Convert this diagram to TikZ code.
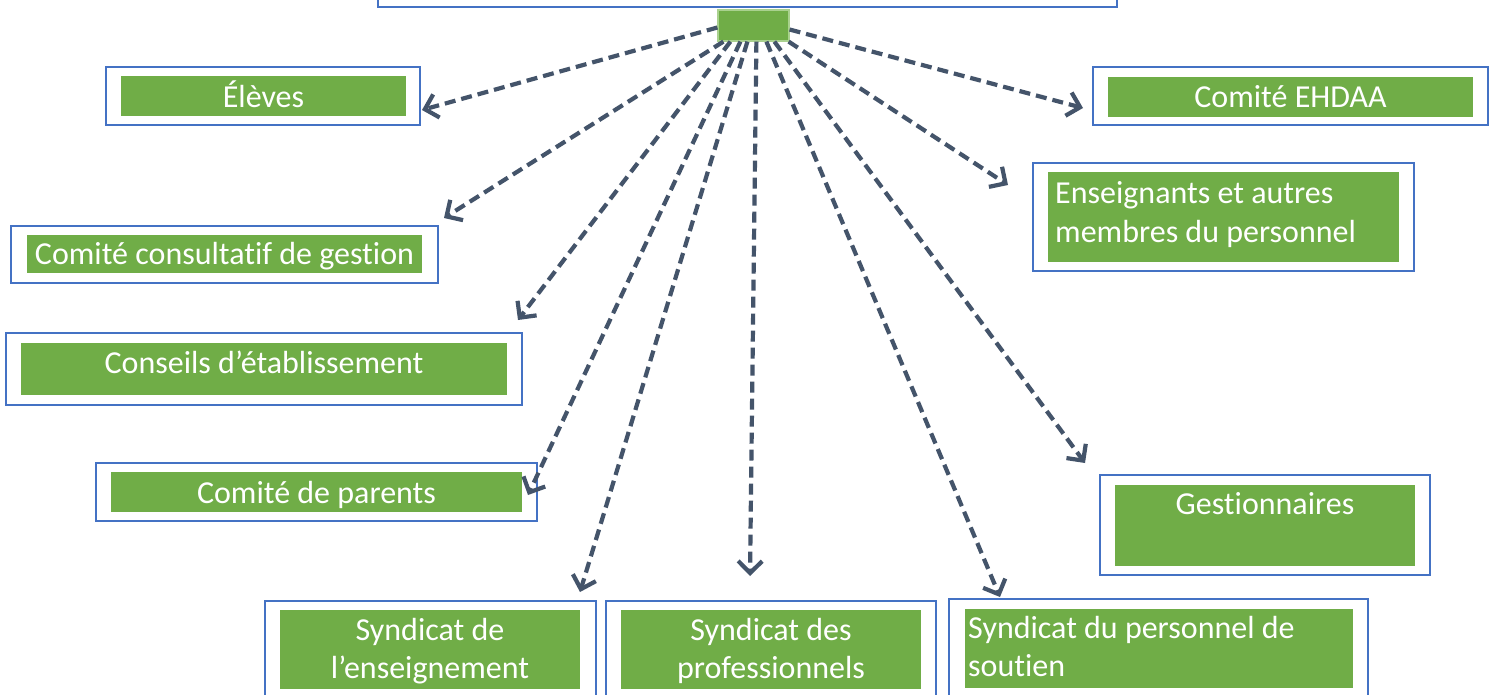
\documentclass[tikz,border=0pt]{standalone}
\usepackage{fontspec}
\setmainfont{Carlito}[RawFeature={-liga}]
\usetikzlibrary{arrows.meta}
\definecolor{gr}{HTML}{70AD47}
\definecolor{bl}{HTML}{4472C4}
\definecolor{ar}{HTML}{44546A}
\definecolor{lg}{HTML}{A9D18E}
\tikzset{
  outerbox/.style={draw=bl, line width=1.6pt, fill=white, inner sep=0pt},
  greenbox/.style={fill=gr, draw=none, inner sep=0pt},
  lbl/.style={text=white, inner sep=0pt, font=\fontsize{32}{39}\selectfont},
  conn/.style={draw=ar, line width=4.2pt, dash pattern=on 11pt off 6pt, -{Straight Barb[length=12pt,width=24pt,line width=4.2pt]}}
}
\begin{document}
\begin{tikzpicture}[x=1pt,y=-1pt]
\useasboundingbox (0,0) rectangle (1497,694);
\fill[white] (0,0) rectangle (1497,694);
% top box (cut off)
\node[outerbox, minimum width=739pt, minimum height=40pt] (top) at (747.5,-13) {};
% source
\node[fill=gr, draw=lg, line width=1.2pt, minimum width=71pt, minimum height=31pt, inner sep=0pt] (src) at (753.5,25.5) {};
% Eleves
\node[outerbox, minimum width=314pt, minimum height=58pt] (elevesO) at (263,96) {};
\node[greenbox, minimum width=285pt, minimum height=40pt] (eleves) at (263.5,96) {};
\node[lbl, anchor=base] (elevesT) at (263.5,107) {Élèves};
% EHDAA
\node[outerbox, minimum width=395pt, minimum height=58pt] (ehdaaO) at (1290.5,96) {};
\node[greenbox, minimum width=365pt, minimum height=40pt] (ehdaa) at (1290.5,97) {};
\node[lbl, anchor=base] (ehdaaT) at (1290.5,107) {Comité EHDAA};
% Enseignants
\node[outerbox, minimum width=381pt, minimum height=108pt] (ensO) at (1223.5,217) {};
\node[greenbox, minimum width=351pt, minimum height=90pt] (ens) at (1223.5,217) {};
\node[lbl, anchor=base west] (ensT1) at (1055,203) {Enseignants et autres};
\node[lbl, anchor=base west] (ensT2) at (1055,242) {membres du personnel};
% Consultatif
\node[outerbox, minimum width=427pt, minimum height=57pt] (ccgO) at (224.5,254.5) {};
\node[greenbox, minimum width=395pt, minimum height=38pt] (ccg) at (224.5,254) {};
\node[lbl, anchor=base] (ccgT) at (224.5,264) {Comité consultatif de gestion};
% Conseils
\node[outerbox, minimum width=516pt, minimum height=72pt] (ceO) at (264,369) {};
\node[greenbox, minimum width=486pt, minimum height=52pt] (ce) at (264,369) {};
\node[lbl, anchor=base] (ceT) at (264,373) {Conseils d’établissement};
% Parents
\node[outerbox, minimum width=441pt, minimum height=58pt] (cpO) at (316.5,492) {};
\node[greenbox, minimum width=411pt, minimum height=40pt] (cp) at (316.5,492) {};
\node[lbl, anchor=base] (cpT) at (316.5,503) {Comité de parents};
% Gestionnaires
\node[outerbox, minimum width=330pt, minimum height=100pt] (gesO) at (1265,525) {};
\node[greenbox, minimum width=300pt, minimum height=81pt] (ges) at (1265,525.5) {};
\node[lbl, anchor=base] (gesT) at (1265,514) {Gestionnaires};
% Syndicat enseignement
\node[outerbox, minimum width=331pt, minimum height=110pt] (seO) at (430.5,656) {};
\node[greenbox, minimum width=300pt, minimum height=79pt] (se) at (430,649.5) {};
\node[lbl, anchor=base] (seT1) at (430,640) {Syndicat de};
\node[lbl, anchor=base] (seT2) at (430,678) {l’enseignement};
% Syndicat professionnels
\node[outerbox, minimum width=330pt, minimum height=110pt] (spO) at (771,656) {};
\node[greenbox, minimum width=300pt, minimum height=79pt] (sp) at (771,649.5) {};
\node[lbl, anchor=base] (spT1) at (771,640) {Syndicat des};
\node[lbl, anchor=base] (spT2) at (771,678) {professionnels};
% Syndicat soutien
\node[outerbox, minimum width=419pt, minimum height=112pt] (ssO) at (1158.5,655) {};
\node[greenbox, minimum width=388pt, minimum height=79pt] (ss) at (1159,648.5) {};
\node[lbl, anchor=base west] (ssT1) at (968,638) {Syndicat du personnel de};
\node[lbl, anchor=base west] (ssT2) at (968,676) {soutien};
% arrow tips
\coordinate (t1) at (422,110);
\coordinate (t2) at (444,218);
\coordinate (t3) at (518,320);
\coordinate (t4) at (528,495);
\coordinate (t5) at (580,592);
\coordinate (t6) at (750,576);
\coordinate (t7) at (1000,597);
\coordinate (t8) at (1085,463);
\coordinate (t9) at (1008,185);
\coordinate (t10) at (1083,108);
% connectors
\draw[conn] ([yshift=-2pt]src.west) -- (t1);
\draw[conn] ([xshift=6pt]src.south west) -- (t2);
\draw[conn] ([xshift=13pt]src.south west) -- (t3);
\draw[conn] ([xshift=23pt]src.south west) -- (t4);
\draw[conn] ([xshift=30pt]src.south west) -- (t5);
\draw[conn] ([xshift=39pt]src.south west) -- (t6);
\draw[conn] ([xshift=49pt]src.south west) -- (t7);
\draw[conn] ([xshift=57pt]src.south west) -- (t8);
\draw[conn] ([xshift=-1pt]src.south east) -- (t9);
\draw[conn] ([yshift=-4pt]src.east) -- (t10);
\end{tikzpicture}
\end{document}
